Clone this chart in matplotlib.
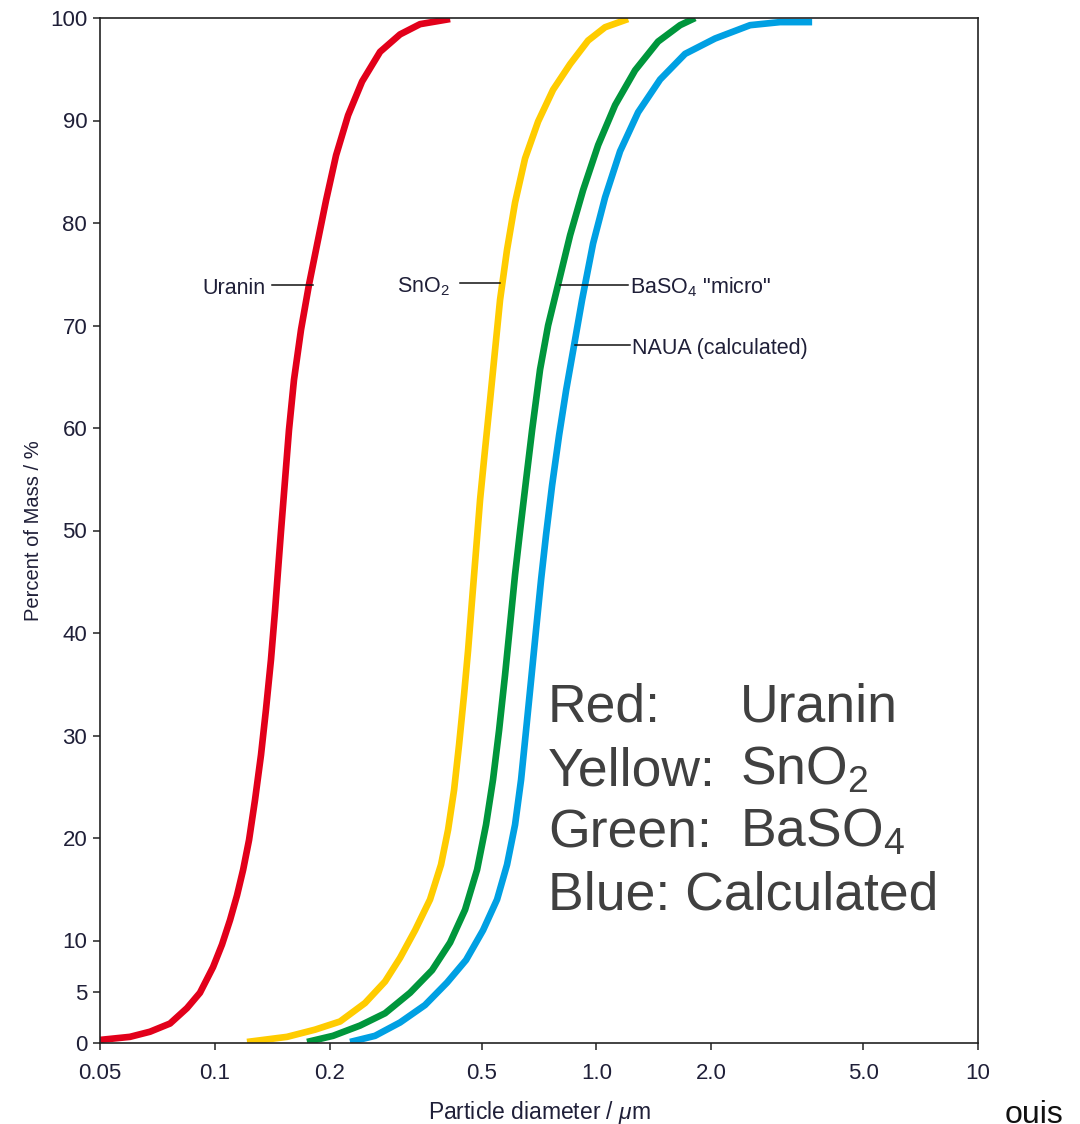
import matplotlib
matplotlib.use('Agg')
import matplotlib.pyplot as plt
import matplotlib.ticker as ticker

plt.rcParams['font.family'] = ['Liberation Sans', 'DejaVu Sans']
plt.rcParams['mathtext.fontset'] = 'custom'
plt.rcParams['mathtext.rm'] = 'Liberation Sans'
plt.rcParams['mathtext.it'] = 'Liberation Sans:italic'

# particle diameter (um) / cumulative percent of mass
uranin_d = [0.0500, 0.0599, 0.0676, 0.0763, 0.0845, 0.0914, 0.0989, 0.1044, 0.1096, 0.1143,
            0.1186, 0.1229, 0.1274, 0.1321, 0.1361, 0.1403, 0.1438, 0.1464, 0.1491, 0.1527,
            0.1564, 0.1612, 0.1682, 0.1765, 0.1853, 0.1956, 0.2078, 0.2234, 0.2431, 0.2710,
            0.3057, 0.3449, 0.4135]
uranin_p = [0.3, 0.6, 1.1, 1.9, 3.4, 4.9, 7.4, 9.6, 12.0, 14.4,
            16.9, 19.8, 23.7, 28.1, 32.5, 37.4, 42.2, 46.1, 50.0, 54.9,
            59.8, 64.7, 69.6, 74.0, 77.9, 82.2, 86.6, 90.5, 93.8, 96.7,
            98.4, 99.4, 99.9]

sno2_d = [0.1214, 0.1546, 0.1830, 0.2129, 0.2475, 0.2793, 0.3057, 0.3348, 0.3664, 0.3915,
          0.4085, 0.4236, 0.4365, 0.4499, 0.4609, 0.4721, 0.4837, 0.4955, 0.5106, 0.5263,
          0.5424, 0.5590, 0.5831, 0.6120, 0.6501, 0.7033, 0.7698, 0.8530, 0.9509, 1.0536,
          1.2104]
sno2_p = [0.1, 0.6, 1.3, 2.1, 3.9, 6.0, 8.3, 11.0, 14.0, 17.4,
          20.8, 24.7, 29.1, 34.0, 38.3, 43.2, 48.1, 53.0, 57.9, 62.7,
          67.6, 72.5, 77.4, 82.0, 86.3, 89.9, 93.0, 95.5, 97.8, 99.1,
          99.9]

baso4_d = [0.1744, 0.2040, 0.2401, 0.2793, 0.3248, 0.3709, 0.4135, 0.4526, 0.4866, 0.5137,
           0.5358, 0.5557, 0.5761, 0.5938, 0.6120, 0.6309, 0.6540, 0.6783, 0.7116, 0.7470,
           0.7983, 0.8530, 0.9225, 1.0104, 1.1192, 1.2629, 1.4506, 1.6568, 1.8138]
baso4_p = [0.1, 0.7, 1.7, 2.9, 4.9, 7.1, 9.8, 13.0, 16.9, 21.3,
           25.7, 30.5, 35.9, 40.8, 45.7, 50.0, 54.9, 59.8, 65.7, 70.0,
           74.4, 78.8, 83.2, 87.6, 91.5, 94.9, 97.7, 99.3, 100.0]

naua_d = [0.2261, 0.2629, 0.3057, 0.3554, 0.4061, 0.4554, 0.5045, 0.5490, 0.5831, 0.6120,
          0.6347, 0.6540, 0.6741, 0.6946, 0.7160, 0.7380, 0.7652, 0.7983, 0.8330, 0.8741,
          0.9170, 0.9800, 1.0536, 1.1534, 1.2859, 1.4685, 1.7074, 2.0464, 2.5274, 3.0296,
          3.6754]
naua_p = [0.1, 0.7, 2.0, 3.7, 5.9, 8.1, 11.0, 14.0, 17.4, 21.3,
          25.7, 30.5, 35.4, 40.3, 45.2, 49.6, 54.4, 59.3, 63.7, 68.1,
          72.5, 78.0, 82.5, 87.0, 90.8, 94.0, 96.5, 98.0, 99.3, 99.6,
          99.6]

xticks = [0.05, 0.1, 0.2, 0.5, 1.0, 2.0, 5.0, 10]
xticklabels = ['0.05', '0.1', '0.2', '0.5', '1.0', '2.0', '5.0', '10']
yticks = [0, 5, 10, 20, 30, 40, 50, 60, 70, 80, 90, 100]

dark = '#1f1f38'

fig = plt.figure(figsize=(10.8, 11.24), dpi=100)
ax = fig.add_axes([100 / 1080, 81 / 1124, 878 / 1080, 1025 / 1124])

lw = 4.8
ax.plot(uranin_d, uranin_p, color='#e2001a', lw=lw, solid_capstyle='butt')
ax.plot(sno2_d, sno2_p, color='#ffcc00', lw=lw, solid_capstyle='butt')
ax.plot(baso4_d, baso4_p, color='#00963c', lw=lw, solid_capstyle='butt')
ax.plot(naua_d, naua_p, color='#00a0e3', lw=lw, solid_capstyle='butt')

ax.set_xscale('log')
ax.set_xlim(0.05, 10)
ax.set_ylim(0, 100)
ax.xaxis.set_major_locator(ticker.FixedLocator(xticks))
ax.xaxis.set_minor_locator(ticker.NullLocator())
ax.set_xticklabels(xticklabels)
ax.set_yticks(yticks)
ax.tick_params(direction='out', length=5.2, width=1.1, color='#222222',
               labelsize=16, labelcolor=dark)
ax.tick_params(axis='y', pad=4)
ax.tick_params(axis='x', pad=9)
for s in ax.spines.values():
    s.set_linewidth(1.2)
    s.set_color('#222222')

ax.set_xlabel(r'Particle diameter / $\mu$m', fontsize=16.5, color=dark, labelpad=11)
ax.set_ylabel('Percent of Mass / %', fontsize=14.5, color=dark, labelpad=5)

lab_kw = dict(fontsize=15.5, color=dark, va='baseline')
ax.plot([0.1412, 0.1809], [73.95, 73.95], color='#111111', lw=1.1)
ax.text(0.1354, 73.1, 'Uranin', ha='right', **lab_kw)
ax.plot([0.4389, 0.559], [74.1, 74.1], color='#111111', lw=1.1)
ax.text(0.4135, 73.2, r'SnO$_2$', ha='right', **lab_kw)
ax.plot([0.803, 1.211], [73.95, 73.95], color='#111111', lw=1.1)
ax.text(1.225, 73.1, r'BaSO$_4$ "micro"', ha='left', **lab_kw)
ax.plot([0.879, 1.225], [68.1, 68.1], color='#111111', lw=1.1)
ax.text(1.24, 67.2, 'NAUA (calculated)', ha='left', **lab_kw)

big = dict(fontsize=38.5, color='#404040', va='baseline')
rows_y = [722, 785, 847, 910]
fig.text(548 / 1080, 1 - rows_y[0] / 1124, 'Red:', **big)
fig.text(740 / 1080, 1 - rows_y[0] / 1124, 'Uranin', **big)
fig.text(548 / 1080, 1 - rows_y[1] / 1124, 'Yellow:', **big)
fig.text(740 / 1080, 1 - rows_y[1] / 1124, r'SnO$_2$', **big)
fig.text(548 / 1080, 1 - rows_y[2] / 1124, 'Green:', **big)
fig.text(740 / 1080, 1 - rows_y[2] / 1124, r'BaSO$_4$', **big)
fig.text(548 / 1080, 1 - rows_y[3] / 1124, 'Blue: Calculated', **big)

fig.text(1005 / 1080, 1 - 1123 / 1124, 'ouis', fontsize=23, color='#111111', va='baseline')

fig.savefig('out.png', dpi=100)
